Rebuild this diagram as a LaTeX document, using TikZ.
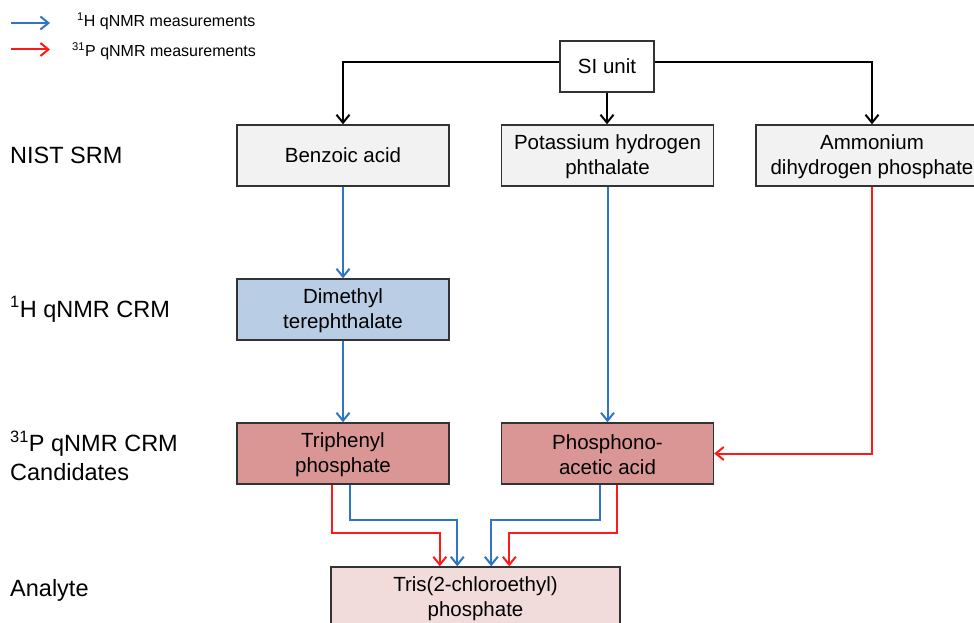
\documentclass[tikz,border=0pt]{standalone}
\usepackage{fontspec}
\setmainfont{Liberation Sans}
\usetikzlibrary{arrows.meta,calc}
\definecolor{bl}{HTML}{2E75C6}
\definecolor{rd}{HTML}{FF1A1A}
\definecolor{fgrey}{HTML}{F2F2F2}
\definecolor{fblue}{HTML}{B9CDE5}
\definecolor{fred}{HTML}{D99694}
\definecolor{fpink}{HTML}{F2DCDB}
\newcommand{\boxtop}{\rule{0pt}{18pt}}
\tikzset{
  box/.style={draw=black!80, line width=1.4pt, minimum width=212pt, minimum height=61pt,
    align=center, inner sep=0pt, font=\fontsize{20.5}{25}\selectfont},
  tip/.style={-{Straight Barb[length=8pt,width=13pt]}},
  blk/.style={tip, line width=2pt, black},
  blu/.style={tip, line width=2pt, bl},
  rdarrow/.style={tip, line width=2pt, rd},
  lbl/.style={anchor=base west, inner sep=0pt, font=\fontsize{23.5}{29}\selectfont},
  leg/.style={anchor=base west, inner sep=0pt, font=\fontsize{16}{19}\selectfont}
}
\begin{document}
\begin{tikzpicture}[x=1pt,y=-1pt]
\useasboundingbox (0,0) rectangle (974,623);
% legend
\coordinate (b1) at (11,23);
\coordinate (b2) at (50,23);
\coordinate (r1) at (11,49.5);
\coordinate (r2) at (50,49.5);
\draw[blu] (b1) -- (b2);
\draw[rdarrow] (r1) -- (r2);
\node[leg] (legb) at (77,27) {\textsuperscript{1}H qNMR measurements};
\node[leg] (legr) at (72,56.5) {\textsuperscript{31}P qNMR measurements};
% row labels
\node[lbl] (l1) at (10,163) {NIST SRM};
\node[lbl] (l2) at (10,317) {\textsuperscript{1}H qNMR CRM};
\node[lbl, anchor=west, align=left] (l3) at (10,456) {\textsuperscript{31}P qNMR CRM\\Candidates};
\node[lbl] (l4) at (10,596) {Analyte};
% boxes
\node[box, minimum width=94pt, minimum height=51pt, fill=white] (si) at (607,66.5) {SI unit};
\node[box, fill=fgrey] (benz) at (343,155.5) {Benzoic acid};
\node[box, fill=fgrey] (pot) at (607.5,155.5) {\boxtop Potassium hydrogen\\phthalate};
\node[box, fill=fgrey, minimum width=232pt] (amm) at (872,155.5) {\boxtop Ammonium\\dihydrogen phosphate};
\node[box, fill=fblue] (dim) at (343,309.5) {\boxtop Dimethyl\\terephthalate};
\node[box, fill=fred] (tri) at (343,453.5) {\boxtop Triphenyl\\phosphate};
\node[box, fill=fred] (phos) at (607.5,453.5) {\boxtop Phosphono-\\acetic acid};
\node[box, fill=fpink, minimum width=289pt] (tris) at (475.5,597.5) {\boxtop Tris(2-chloroethyl)\\phosphate};
% SI connectors
\draw[blk] ([yshift=4pt]si.west) -| (benz.north);
\draw[blk] ([yshift=4pt]si.east) -| (amm.north);
\draw[blk] (si.south) -- (si.south |- pot.north);
% blue chain
\draw[blu] (benz.south) -- (dim.north);
\draw[blu] (dim.south) -- (tri.north);
\draw[blu] (pot.south) -- (phos.north);
\draw[rdarrow] (amm.south) |- (phos.east);
% to analyte
\draw[rdarrow] ($(tri.south west)+(96,0)$) -- ++(0,48) -| ($(tris.north west)+(109.5,0)$);
\draw[blu] ($(tri.south west)+(114,0)$) -- ++(0,35) -| ($(tris.north west)+(127,0)$);
\draw[blu] ($(phos.south west)+(99,0)$) -- ++(0,35) -| ($(tris.north west)+(161,0)$);
\draw[rdarrow] ($(phos.south west)+(116.5,0)$) -- ++(0,48) -| ($(tris.north west)+(179,0)$);
\end{tikzpicture}
\end{document}
